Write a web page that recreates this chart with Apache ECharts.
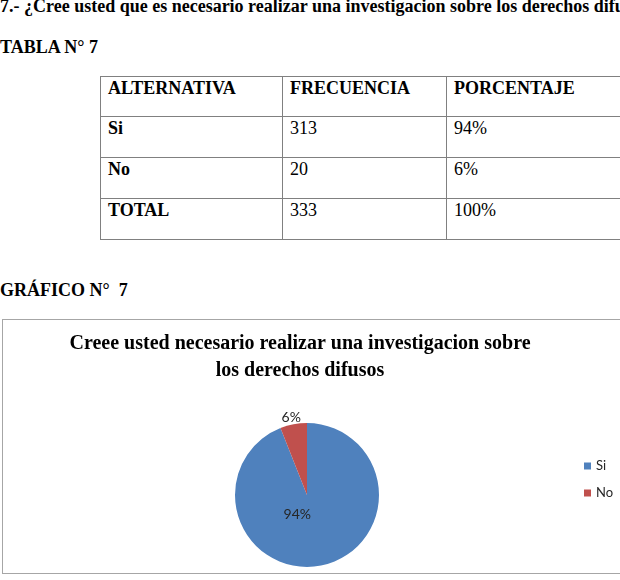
<!DOCTYPE html>
<html>
<head>
<meta charset="utf-8">
<script src="https://cdn.jsdelivr.net/npm/echarts@6/dist/echarts.min.js"></script>
<style>
	html, body { margin:0; padding:0; width:620px; height:580px; overflow:hidden; background:#fff; }
	.txt { position:absolute; left:0; font-family:"Liberation Serif", serif; font-weight:bold; font-size:18px; line-height:18px; color:#000; white-space:nowrap; }
	#tabla { position:absolute; left:100px; top:76px; width:566px; table-layout:fixed; border-collapse:collapse; font-family:"Liberation Serif", serif; font-size:18px; line-height:18px; color:#000; }
	#tabla td { border:1px solid #808080; padding:2px 7px 0 7px; vertical-align:top; box-sizing:border-box; white-space:nowrap; overflow:hidden; }
	#tabla .b { font-weight:bold; }
</style>
</head>
<body>
<div class="txt" style="top:-3px;">7.- ¿Cree usted que es necesario realizar una investigacion sobre los derechos difusos?</div>
<div class="txt" style="top:38px;">TABLA N° 7</div>
<table id="tabla">
	<colgroup><col style="width:182px"><col style="width:164px"><col style="width:220px"></colgroup>
	<tbody id="tabla_body"></tbody>
</table>
<div class="txt" style="top:281px;">GRÁFICO N°&nbsp; 7</div>
<div style="position:absolute;left:2px;top:319px;width:680px;height:253px;border:1px solid #a6a6a6;"></div>
<div id="pie_chart" style="position:absolute;left:-20px;top:320px;width:640px;height:253px;"></div>
<script>
	// datos
	var headers = ['ALTERNATIVA', 'FRECUENCIA', 'PORCENTAJE'];
	var categories = ['Si', 'No'];
	var frecuencia = [313, 20];
	var porcentaje = ['94%', '6%'];
	var totalLabel = 'TOTAL';
	var total = 333;
	var totalPct = '100%';
	var colors = ['#4F81BD', '#C0504D'];

	// tabla
	var rows = [[headers[0], headers[1], headers[2], true]];
	for (var i = 0; i < categories.length; i++) {
		rows.push([categories[i], frecuencia[i], porcentaje[i], false]);
	}
	rows.push([totalLabel, total, totalPct, false]);
	var html = '';
	for (var r = 0; r < rows.length; r++) {
		var h = rows[r][3];
		html += '<tr style="height:' + (r == 0 ? 40 : 41) + 'px">';
		html += '<td class="b">' + rows[r][0] + '</td>';
		html += '<td' + (h ? ' class="b"' : '') + '>' + rows[r][1] + '</td>';
		html += '<td' + (h ? ' class="b"' : '') + '>' + rows[r][2] + '</td>';
		html += '</tr>';
	}
	document.getElementById('tabla_body').innerHTML = html;

	// grafico
	var pieChart = echarts.init(document.getElementById('pie_chart'));
	pieChart.setOption({
		animation: false,
		color: colors,
		title: {
			text: 'Creee usted necesario realizar una investigacion sobre\nlos derechos difusos',
			left: 'center',
			top: 5,
			textStyle: {
				fontFamily: 'Liberation Serif',
				fontWeight: 'bold',
				fontSize: 20,
				lineHeight: 27,
				color: '#000'
			}
		},
		legend: {
			orient: 'vertical',
			left: 599,
			top: 134,
			icon: 'rect',
			itemWidth: 7,
			itemHeight: 7,
			itemGap: 13,
			textStyle: { fontFamily: 'Lato', fontSize: 13, lineHeight: 14, color: '#262626' },
			data: categories
		},
		series: [{
			type: 'pie',
			center: [327, 175],
			radius: 72,
			startAngle: 90,
			clockwise: true,
			avoidLabelOverlap: false,
			label: {
				fontFamily: 'Lato',
				fontSize: 14,
				color: '#262626',
				formatter: function (p) { return Math.round(p.percent) + '%'; }
			},
			labelLine: { show: false, length: 3, length2: 0 },
			labelLayout: function (p) {
				if (p.dataIndex == 0) return { dx: -17, dy: -19 };
				return { dx: 13, dy: -4 };
			},
			data: [
				{ name: categories[0], value: frecuencia[0], label: { position: 'inside' } },
				{ name: categories[1], value: frecuencia[1], label: { position: 'outside' } }
			]
		}]
	});
</script>
</body>
</html>
